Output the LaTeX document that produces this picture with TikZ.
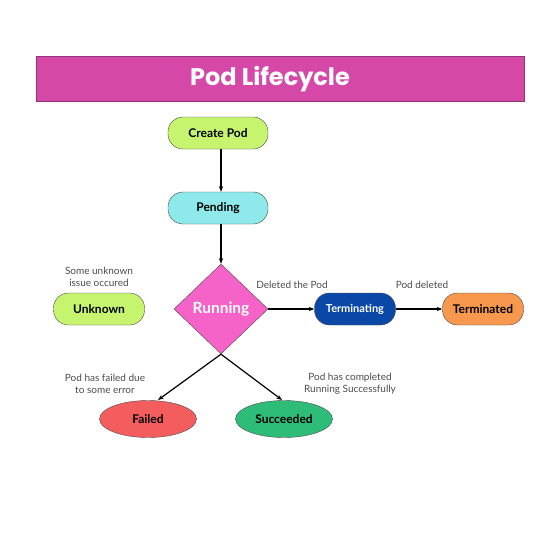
\documentclass[tikz,border=0pt]{standalone}
\usepackage{fontspec}
\setmainfont{Lato}
\newfontfamily\titlefont{Poppins}
\usetikzlibrary{arrows.meta,positioning,shapes.geometric}

\definecolor{titlepink}{HTML}{D648A8}
\definecolor{limegreen}{HTML}{C6F46E}
\definecolor{pendcyan}{HTML}{8FE8EA}
\definecolor{runpink}{HTML}{F562C8}
\definecolor{termblue}{HTML}{0A48A8}
\definecolor{termorange}{HTML}{F7984E}
\definecolor{failred}{HTML}{F45D5D}
\definecolor{succgreen}{HTML}{2EBD78}
\definecolor{edgegray}{HTML}{4A4A4A}

\begin{document}
\begin{tikzpicture}[
    x=1pt, y=-1pt,
    node distance=3pt,
    state/.style={draw=edgegray, rounded corners=15pt, align=center, minimum height=32pt, font=\fontsize{12}{14}\selectfont\bfseries},
    oval/.style={draw=edgegray, ellipse, minimum width=97pt, minimum height=37pt, font=\fontsize{12}{14}\selectfont\bfseries},
    note/.style={align=center, text=black!70, font=\fontsize{10}{12}\selectfont},
    link/.style={-{Stealth[length=2mm]}, line width=1.2pt}
]
\fill[white] (0,0) rectangle (560,560);
\useasboundingbox (0,0) rectangle (560,560);

\node[draw=titlepink!70!black, fill=titlepink, minimum width=488pt, minimum height=45pt] (titlebar) at (280,79) {};
\node[text=white, font=\titlefont\fontsize{24}{28}\selectfont\bfseries] (title) at (270,79) {Pod Lifecycle};

\node[state, fill=limegreen, minimum width=100pt] (create) at (218,133) {Create Pod};
\node[state, fill=pendcyan, minimum width=100pt] (pending) at (218,208) {Pending};
\node[draw=edgegray, diamond, fill=runpink, minimum width=94pt, minimum height=90pt, inner sep=0pt,
      text=white, font=\fontsize{15.5}{18}\selectfont\bfseries] (running) at (221,309) {Running};
\node[state, fill=limegreen, minimum width=91pt] (unknown) at (99,309) {Unknown};
\node[state, fill=termblue, text=white, minimum width=81pt, font=\fontsize{11}{13}\selectfont\bfseries] (terminating) at (355,309) {Terminating};
\node[state, fill=termorange, minimum width=81pt] (terminated) at (483,309) {Terminated};
\node[oval, fill=failred] (failed) at (148,419) {Failed};
\node[oval, fill=succgreen] (succeeded) at (284,419) {Succeeded};

% notes
\node[note, above=of unknown] (unknownnote) {Some unknown\\issue occured};
\node[note] (deletednote) at (292,285) {Deleted the Pod};
\node[note] (podnote) at (422,285) {Pod deleted};
\node[note] (failednote) at (105,384) {Pod has failed due\\to some error};
\node[note] (succnote) at (350,384) {Pod has completed\\Running Successfully};

\coordinate (failtip) at (158,400);
\coordinate (succtip) at (282,400);

\draw[link] (create.south -| 221,0) -- (pending.north -| 221,0);
\draw[link] (pending.south -| 221,0) -- (running.north);
\draw[link] (running.east) -- (terminating.west);
\draw[link] (terminating) -- (terminated);
\draw[link] (running.south) -- (failtip);
\draw[link] (running.south) -- (succtip);
\end{tikzpicture}
\end{document}
